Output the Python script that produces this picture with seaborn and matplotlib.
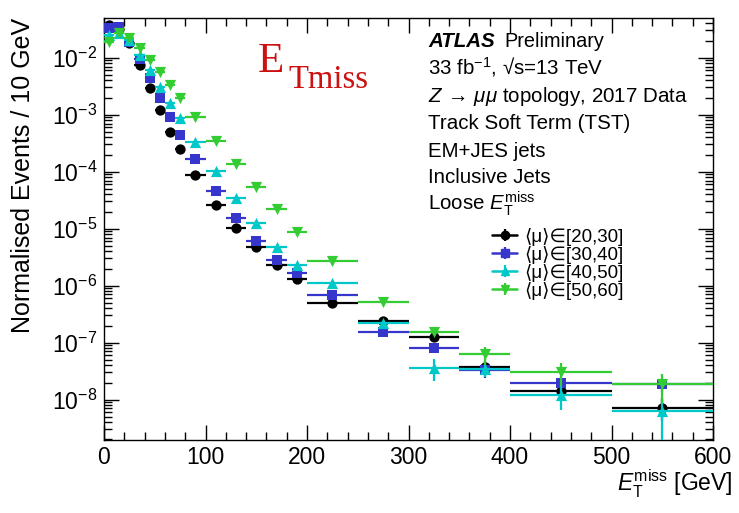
import numpy as np
import pandas as pd
import matplotlib
matplotlib.use("Agg")
import matplotlib.pyplot as plt
import seaborn as sns
from matplotlib.legend_handler import HandlerTuple
from matplotlib.lines import Line2D
from matplotlib.ticker import MultipleLocator, LogLocator, NullFormatter

# ---------------- data ----------------
bin_lo = [0, 10, 20, 30, 40, 50, 60, 70, 80, 100, 120, 140, 160, 180, 200, 250, 300, 350, 400, 500]
bin_hi = [10, 20, 30, 40, 50, 60, 70, 80, 100, 120, 140, 160, 180, 200, 250, 300, 350, 400, 500, 600]

labels = ["⟨μ⟩∈[20,30]", "⟨μ⟩∈[30,40]", "⟨μ⟩∈[40,50]", "⟨μ⟩∈[50,60]"]
colors = ["#000000", "#3636cc", "#00c8c8", "#33cc33"]
markers = ["o", "s", "^", "v"]

mu_20_30 = [0.0375, 0.032, 0.0179, 0.00745, 0.0029, 0.00121, 5.0e-4, 2.5e-4, 8.7e-5, 2.6e-5,
            1.02e-5, 4.8e-6, 2.35e-6, 1.31e-6, 5.0e-7, 2.43e-7, 1.24e-7, 3.8e-8, 1.44e-8, 7.2e-9]
mu_30_40 = [0.0328, 0.0341, 0.0191, 0.0094, 0.00436, 0.00194, 9.2e-4, 4.4e-4, 1.65e-4, 4.6e-5,
            1.54e-5, 5.96e-6, 2.82e-6, 1.67e-6, 6.9e-7, 1.56e-7, 8.0e-8, 3.3e-8, 1.99e-8, 1.86e-8]
mu_40_50 = [0.025, 0.027, 0.0205, 0.0111, 0.0061, 0.0031, 0.00158, 8.65e-4, 3.36e-4, 1.04e-4,
            3.4e-5, 1.24e-5, 4.8e-6, 2.3e-6, 1.1e-6, 2.19e-7, 3.6e-8, 3.5e-8, 1.21e-8, 6.3e-9]
mu_50_60 = [0.0191, 0.0275, 0.0219, 0.0146, 0.0091, 0.00568, 0.00332, 0.00194, 9.2e-4, 3.46e-4,
            1.35e-4, 5.46e-5, 2.19e-5, 8.85e-6, 2.71e-6, 5.24e-7, 1.51e-7, 6.25e-8, 3.03e-8, 1.86e-8]

err_20_30 = [0]*15 + [1.5e-8, 1.0e-8, 1.0e-8, 5e-9, 3e-9]
err_30_40 = [0]*15 + [1.2e-8, 8e-9, 9e-9, 5e-9, 5e-9]
err_40_50 = [0]*15 + [2.5e-8, 1.5e-8, 1.0e-8, 5.5e-9, 5e-9]
err_50_60 = [0]*15 + [4e-8, 1.5e-8, 2.2e-8, 1.3e-8, 1.0e-8]

series = [mu_20_30, mu_30_40, mu_40_50, mu_50_60]
errors = [err_20_30, err_30_40, err_40_50, err_50_60]

# ---------------- style ----------------
sns.set_theme(style="ticks")
plt.rcParams["font.family"] = ["Liberation Sans", "DejaVu Sans"]
plt.rcParams["mathtext.fontset"] = "custom"
plt.rcParams["mathtext.rm"] = "Liberation Sans"
plt.rcParams["mathtext.it"] = "Liberation Sans:italic"
plt.rcParams["mathtext.bf"] = "Liberation Sans:bold"
plt.rcParams["axes.linewidth"] = 1.0
for k in ["text.color", "axes.labelcolor", "xtick.color", "ytick.color", "axes.edgecolor"]:
    plt.rcParams[k] = "black"

W, H = 739, 513
fig = plt.figure(figsize=(W / 100, H / 100), dpi=100)
ax = fig.add_axes([104 / W, 1 - 440 / H, 609 / W, 422 / H])

lo = np.array(bin_lo, dtype=float)
hi = np.array(bin_hi, dtype=float)
centers = (lo + hi) / 2
halfw = (hi - lo) / 2

sizes = [55, 45, 65, 65]
handles = []
for i, (vals, err) in enumerate(zip(series, errors)):
    df = pd.DataFrame({"x": centers, "y": vals})
    ax.errorbar(centers, vals, xerr=halfw, yerr=err, fmt="none",
                ecolor=colors[i], elinewidth=1.6, capsize=0, zorder=2 + 2 * i)
    sns.scatterplot(data=df, x="x", y="y", ax=ax, marker=markers[i], s=sizes[i],
                    color=colors[i], edgecolor=colors[i], linewidth=0, zorder=3 + 2 * i,
                    legend=False)
    hline = Line2D([], [], color=colors[i], lw=1.8)
    vbar = Line2D([], [], color=colors[i], marker="|", markersize=9, mew=1.6, linestyle="none")
    mk = Line2D([], [], marker=markers[i], color=colors[i], linestyle="none", markersize=6)
    handles.append((hline, vbar, mk))

ax.set_yscale("log")
ax.set_xlim(0, 600)
ax.set_ylim(1.96e-9, 0.0497)

ax.xaxis.set_major_locator(MultipleLocator(100))
ax.xaxis.set_minor_locator(MultipleLocator(20))
ax.yaxis.set_major_locator(LogLocator(base=10, numticks=20))
ax.yaxis.set_minor_locator(LogLocator(base=10, subs=np.arange(2, 10), numticks=20))
ax.yaxis.set_minor_formatter(NullFormatter())

ax.tick_params(which="both", direction="in", top=True, right=True, labelsize=16.5, colors="black")
ax.tick_params(which="major", length=11, width=1.0)
ax.tick_params(which="minor", length=5.5, width=1.0)
ax.tick_params(axis="x", pad=4)
ax.tick_params(axis="y", pad=5)

xl = ax.set_xlabel(r"$E_{\mathrm{T}}^{\mathrm{miss}}$ [GeV]", fontsize=16.5)
ax.xaxis.set_label_coords((733 - 104) / 609, (440 - 492) / 422)
xl.set_ha("right")
xl.set_va("baseline")
ax.set_ylabel("Normalised Events / 10 GeV", fontsize=18, loc="top", labelpad=12)

for sp in ax.spines.values():
    sp.set_color("black")
    sp.set_visible(True)

# ---------------- annotations ----------------
def px(x, y):
    return x / W, 1 - y / H

tx = 428
fs = 14.8
fig.text(*px(tx, 46.7), "ATLAS", fontsize=fs, fontweight="bold", fontstyle="italic", va="baseline")
fig.text(*px(504, 46.7), "Preliminary", fontsize=fs * 0.97, va="baseline")
fig.text(*px(tx, 74.3), "33 fb$^{-1}$, √s=13 TeV", fontsize=fs, va="baseline")
fig.text(*px(tx, 101.7), r"$Z\,\rightarrow\,\mu\mu$ topology, 2017 Data", fontsize=fs, va="baseline")
fig.text(*px(tx, 129.3), "Track Soft Term (TST)", fontsize=fs, va="baseline")
fig.text(*px(tx, 156.7), "EM+JES jets", fontsize=fs, va="baseline")
fig.text(*px(tx, 183.3), "Inclusive Jets", fontsize=fs, va="baseline")
fig.text(*px(tx, 210), r"Loose $E_{\mathrm{T}}^{\mathrm{miss}}$", fontsize=fs, va="baseline")

red = "#cc1111"
fig.text(*px(258, 72), "E", fontsize=31, color=red, family="Liberation Serif", va="baseline")
fig.text(*px(288, 88), "Tmiss", fontsize=23.5, color=red, family="Liberation Serif", va="baseline")

leg = ax.legend(handles, labels, handler_map={tuple: HandlerTuple(ndivide=1)},
                loc="upper left", bbox_to_anchor=px(492, 227.5), bbox_transform=fig.transFigure,
                frameon=False, fontsize=13.5, borderpad=0, borderaxespad=0,
                handlelength=1.35, handletextpad=0.35, labelspacing=0.0)

fig.savefig("out.png", dpi=100)
